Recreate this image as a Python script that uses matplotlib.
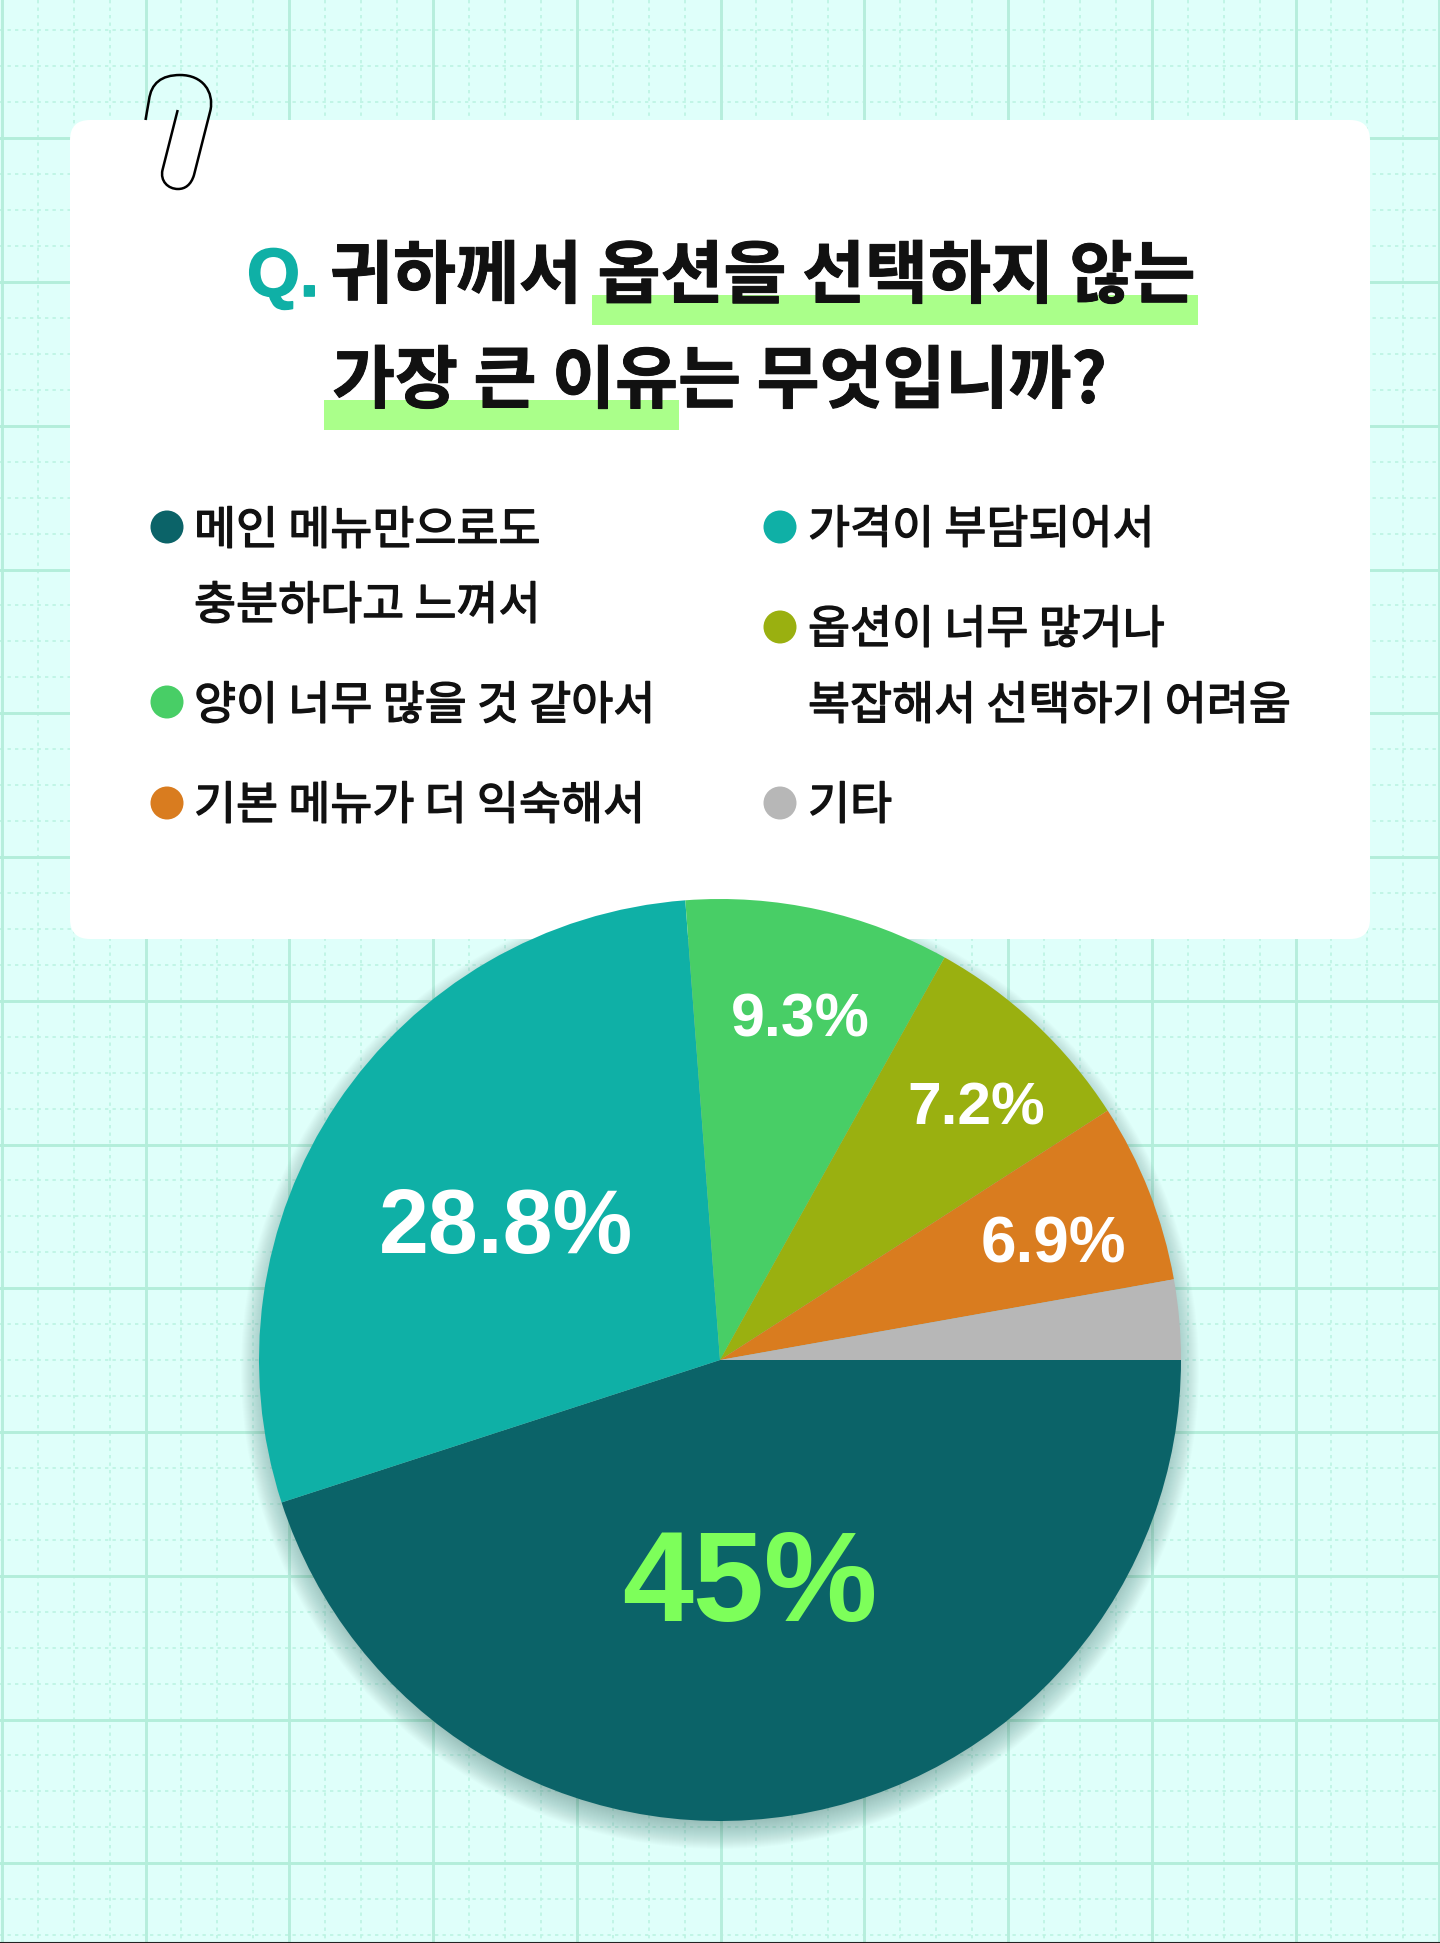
import matplotlib
matplotlib.use("Agg")
import matplotlib.pyplot as plt
import matplotlib.patheffects as pe
import numpy as np
from matplotlib.patches import Circle, FancyBboxPatch, PathPatch, Rectangle
from matplotlib.path import Path

# wedge sizes as drawn in the picture (they differ a bit from the printed labels)
pie_values = [45, 28.8, 9.3, 7.8, 6.3, 2.8]
pie_colors = ["#0b6368", "#0fb0a6", "#48ce66", "#9ab010", "#d97c1f", "#b7b7b7"]
pct_labels = ["45%", "28.8%", "9.3%", "7.2%", "6.9%"]

KR = ["Noto Sans CJK KR", "DejaVu Sans"]
NUM = ["Liberation Sans", "DejaVu Sans"]
W, H = 1440, 1943

fig = plt.figure(figsize=(W / 100, H / 100), dpi=100)


def layer(z):
    a = fig.add_axes([0, 0, 1, 1])
    a.set_xlim(0, W)
    a.set_ylim(H, 0)
    a.axis("off")
    a.set_zorder(z)
    return a


ax = layer(1)
ax.add_patch(Rectangle((0, 0), W, H, fc="#dffffa", ec="none", zorder=0))

# graph paper
step = 143.75 / 4
for i, x in enumerate(np.arange(1.8, W, step)):
    if i % 4 == 0:
        ax.plot([x, x], [0, H], color="#b6eedc", lw=2.1, zorder=2)
    else:
        ax.plot([x, x], [0, H], color="#bcf3e2", lw=1.2, ls=(0, (2, 2.5)), zorder=1)
for i, y in enumerate(np.arange(1863.3 - 52 * step, H, step)):
    if i % 4 == 0:
        ax.plot([0, W], [y, y], color="#b3eeda", lw=2.1, zorder=2)
    else:
        ax.plot([0, W], [y, y], color="#bcf3e2", lw=1.2, ls=(0, (2, 2.5)), zorder=1)
ax.plot([0, W], [1942.5, 1942.5], color="#222222", lw=1.5, zorder=3)

# soft shadow under the pie
cx, cy, r = 720, 1360, 461
for i in range(30):
    ax.add_patch(Circle((cx, cy + 10), r + 18 - i, fc="#0b3d3a", ec="none", alpha=0.01, zorder=4))

card_ax = layer(2)
card_ax.add_patch(FancyBboxPatch((90, 140), 1260, 779, boxstyle="round,pad=20,rounding_size=20",
                                 fc="white", ec="none"))

pie_ax = fig.add_axes([(cx - r) / W, 1 - (cy + r) / H, 2 * r / W, 2 * r / H])
pie_ax.pie(pie_values, colors=pie_colors, startangle=0, counterclock=False, radius=1)
pie_ax.set_xlim(-1, 1)
pie_ax.set_ylim(-1, 1)
pie_ax.set_zorder(3)

top = layer(4)

# paperclip
verts = [(145.5, 120), (149, 100), (152, 75), (180, 75), (203, 75), (214, 92), (210.5, 110),
         (194, 175), (191, 185), (185, 189), (178, 189), (168, 189), (160, 181), (162.5, 170),
         (177.7, 110)]
codes = [Path.MOVETO, Path.LINETO, Path.CURVE3, Path.CURVE3, Path.CURVE4, Path.CURVE4, Path.CURVE4,
         Path.LINETO, Path.CURVE4, Path.CURVE4, Path.CURVE4, Path.CURVE4, Path.CURVE4, Path.CURVE4,
         Path.LINETO]
top.add_patch(PathPatch(Path(verts, codes), fc="none", ec="black", lw=1.8))

# title
bold = [pe.withStroke(linewidth=0.7, foreground="#111111")]
top.add_patch(Rectangle((592, 295), 606, 30, fc="#aaff8a", ec="none", zorder=1))
top.add_patch(Rectangle((324, 400), 355, 30, fc="#aaff8a", ec="none", zorder=1))
top.text(247, 278, "Q.", color="#0fb0a6", fontsize=49, fontweight="bold", family=NUM, va="center", zorder=3,
         path_effects=[pe.withStroke(linewidth=1.2, foreground="#0fb0a6")])
top.text(330, 278, "귀하께서 옵션을 선택하지 않는", color="#111111", fontsize=49.3, fontweight="bold", family=KR,
         va="center", zorder=3, path_effects=bold)
top.text(332, 383, "가장 큰 이유는 무엇입니까?", color="#111111", fontsize=49.3, fontweight="bold", family=KR,
         va="center", zorder=3, path_effects=bold)

# legend
left_rows = [(531, 0, "메인 메뉴만으로도"), (606, None, "충분하다고 느껴서"), (706, 2, "양이 너무 많을 것 같아서"),
             (806, 4, "기본 메뉴가 더 익숙해서")]
right_rows = [(530, 1, "가격이 부담되어서"), (630, 3, "옵션이 너무 많거나"), (706, None, "복잡해서 선택하기 어려움"),
              (806, 5, "기타")]
dot_y = {531: 527, 530: 527, 706: 702, 806: 803, 630: 627}
medium = [pe.withStroke(linewidth=1.0, foreground="#111111")]
for rows, dot_x, text_x in [(left_rows, 167, 194), (right_rows, 780, 808)]:
    for y, idx, label in rows:
        if idx is not None:
            top.add_patch(Circle((dot_x, dot_y[y]), 16.5, fc=pie_colors[idx], ec="none"))
        top.text(text_x, y, label, color="#111111", fontsize=32.9, family=KR, va="center", path_effects=medium)

# percentages
pct_pos = [(750, 1588, 92, "#7dff5a"), (506, 1229, 64.5, "white"), (800.5, 1021, 43.8, "white"),
           (976.5, 1109, 43.5, "white"), (1053, 1245.5, 46, "white")]
for label, (x, y, size, col) in zip(pct_labels, pct_pos):
    top.text(x, y, label, color=col, fontsize=size, fontweight="bold", family=NUM, ha="center", va="center")

fig.savefig("out.png", dpi=100)
